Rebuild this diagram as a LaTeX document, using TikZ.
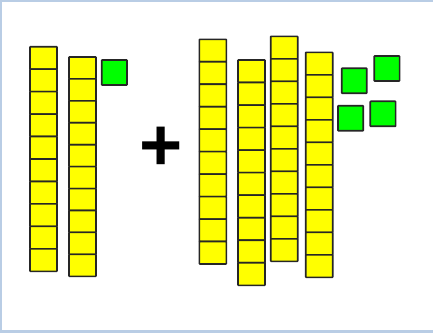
\documentclass[tikz,border=0pt]{standalone}
\usepackage{fontspec}
\setmainfont{Liberation Sans}
\definecolor{frameblue}{HTML}{B9CDE5}
\definecolor{rodyellow}{HTML}{FFFF00}
\definecolor{unitgreen}{HTML}{00FF00}
\begin{document}
\begin{tikzpicture}[x=1pt,y=-1pt,
  cell/.style={draw=black!85, fill=rodyellow, line width=1.6pt, rounded corners=0.6pt},
  unitsq/.style={draw=black!85, fill=unitgreen, line width=1.7pt, rounded corners=0.6pt},
  plussign/.style={font=\bfseries\fontsize{74}{74}\selectfont, inner sep=0pt}]
\fill[frameblue] (0,0) rectangle (433,333);
\fill[white] (2,2) rectangle (433,330);
\useasboundingbox (0,0) rectangle (433,333);
% rods of ten
\foreach \x/\t/\b in {30/46.7/271.3, 69/57/276.3, 199.3/39.3/264, 238/60/285.3, 270.7/36.3/261.3, 305.7/52.3/277.3} {
  \pgfmathsetmacro\h{(\b-\t)/10}
  \foreach \i in {0,...,9} \draw[cell] (\x,\t+\i*\h) rectangle ++(27,\h);
}
% unit cubes
\draw[unitsq] (101.7,60) rectangle ++(25.3,25);
\draw[unitsq] (341.7,68.3) rectangle ++(25,25);
\draw[unitsq] (374.3,56) rectangle ++(25.3,25);
\draw[unitsq] (338,105.7) rectangle ++(25.3,25);
\draw[unitsq] (370.3,101.3) rectangle ++(25.3,25);
% plus
\node[plussign] (plus) at (161,148.5) {+};
\end{tikzpicture}
\end{document}
